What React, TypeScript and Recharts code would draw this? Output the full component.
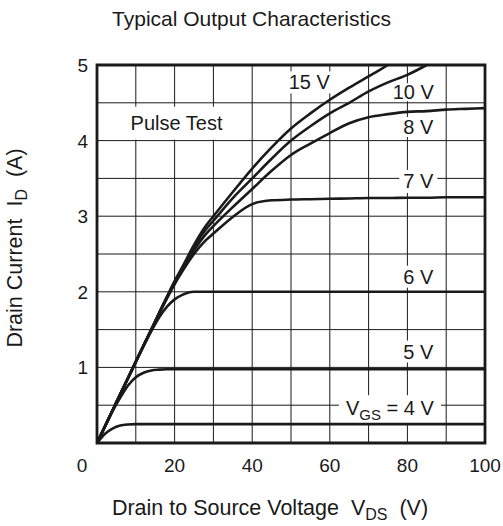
import { LineChart, Line, XAxis, YAxis, CartesianGrid, ReferenceArea, ReferenceDot } from 'recharts';

// drain-source voltage (V), shared by all curves
const vds = [0, 2, 4, 6, 8, 10, 12, 14, 16, 18, 20, 22, 25, 28, 30, 35, 40, 45, 50, 55, 60, 65, 70, 75, 80, 85, 90, 95, 100];

// drain current (A) for each gate voltage
const id4 = [0, 0.12, 0.19, 0.23, 0.245, 0.25, 0.25, 0.25, 0.25, 0.25, 0.25, 0.25, 0.25, 0.25, 0.25, 0.25, 0.25, 0.25, 0.25, 0.25, 0.25, 0.25, 0.25, 0.25, 0.25, 0.25, 0.25, 0.25, 0.25];
const id5 = [0, 0.21, 0.42, 0.6, 0.76, 0.87, 0.93, 0.96, 0.97, 0.975, 0.975, 0.975, 0.975, 0.975, 0.975, 0.975, 0.975, 0.975, 0.975, 0.975, 0.975, 0.975, 0.975, 0.975, 0.975, 0.975, 0.975, 0.975, 0.975];
const id6 = [0, 0.215, 0.43, 0.645, 0.86, 1.07, 1.28, 1.48, 1.66, 1.8, 1.9, 1.96, 2.0, 2.0, 2.0, 2.0, 2.0, 2.0, 2.0, 2.0, 2.0, 2.0, 2.0, 2.0, 2.0, 2.0, 2.0, 2.0, 2.0];
const id7 = [0, 0.215, 0.43, 0.645, 0.86, 1.075, 1.29, 1.5, 1.71, 1.91, 2.1, 2.27, 2.5, 2.68, 2.77, 2.99, 3.16, 3.21, 3.22, 3.225, 3.23, 3.235, 3.24, 3.24, 3.245, 3.245, 3.25, 3.25, 3.25];
const id8 = [0, 0.215, 0.43, 0.645, 0.86, 1.075, 1.29, 1.5, 1.71, 1.92, 2.12, 2.29, 2.55, 2.76, 2.87, 3.12, 3.36, 3.6, 3.81, 3.96, 4.1, 4.23, 4.31, 4.35, 4.38, 4.39, 4.41, 4.42, 4.43];
const id10 = [0, 0.215, 0.43, 0.645, 0.86, 1.075, 1.29, 1.5, 1.72, 1.93, 2.13, 2.31, 2.59, 2.82, 2.94, 3.24, 3.5, 3.76, 4.0, 4.19, 4.36, 4.5, 4.65, 4.77, 4.87, 5.0, null, null, null];
const id15 = [0, 0.215, 0.43, 0.65, 0.86, 1.08, 1.29, 1.5, 1.72, 1.93, 2.14, 2.33, 2.62, 2.87, 3.0, 3.32, 3.63, 3.91, 4.16, 4.36, 4.54, 4.7, 4.85, 5.0, null, null, null, null, null];

const xTicks = [0, 10, 20, 30, 40, 50, 60, 70, 80, 90, 100];
const yTicks = [0, 0.5, 1, 1.5, 2, 2.5, 3, 3.5, 4, 4.5, 5];

const curves = [
  { key: 'v4', values: id4 },
  { key: 'v5', values: id5 },
  { key: 'v6', values: id6 },
  { key: 'v7', values: id7 },
  { key: 'v8', values: id8 },
  { key: 'v10', values: id10 },
  { key: 'v15', values: id15 },
];

const data = vds.map((x, i) => {
  const row: Record<string, number | null> = { vds: x };
  curves.forEach((c) => {
    row[c.key] = c.values[i];
  });
  return row;
});

// curve annotations, placed in data units
const notes = [
  { text: '15 V', x: 54.7, y: 4.77, w: 44, h: 22 },
  { text: '10 V', x: 81.5, y: 4.64, w: 46, h: 18 },
  { text: '8 V', x: 82.8, y: 4.18, w: 36, h: 20 },
  { text: '7 V', x: 82.8, y: 3.46, w: 38, h: 23 },
  { text: '6 V', x: 82.8, y: 2.2, w: 36, h: 22 },
  { text: '5 V', x: 82.8, y: 1.21, w: 36, h: 22 },
  { text: 'Pulse Test', x: 20.5, y: 4.23, w: 108, h: 33 },
];

const FONT = '"Liberation Sans", Arial, Helvetica, sans-serif';
const INK = '#1a1a1a';

const XTick = (props: any) => {
  const { x, y, payload } = props;
  const v = payload.value;
  if (v % 20 !== 0) return <g />;
  return (
    <text x={v === 0 ? x - 15 : x} y={y + 29} textAnchor="middle" fontSize={19} fontFamily={FONT} fill={INK}>
      {v}
    </text>
  );
};

const YTick = (props: any) => {
  const { x, y, payload } = props;
  const v = payload.value;
  if (v === 0 || !Number.isInteger(v)) return <g />;
  return (
    <text x={x - 9} y={y + 7} textAnchor="end" fontSize={19} fontFamily={FONT} fill={INK}>
      {v}
    </text>
  );
};

const noteShape = (text: string, w: number, h: number) => (p: any) => (
  <g>
    <rect x={p.cx - w / 2} y={p.cy - h / 2} width={w} height={h} fill="#fff" />
    <text x={p.cx} y={p.cy + 7} textAnchor="middle" fontSize={20} fontFamily={FONT} fill={INK}>
      {text}
    </text>
  </g>
);

const vgsShape = (p: any) => (
  <g>
    <rect x={p.cx - 51} y={p.cy - 13} width={102} height={28} fill="#fff" />
    <text x={p.cx} y={p.cy + 7} textAnchor="middle" fontSize={20} fontFamily={FONT} fill={INK}>
      V
      <tspan fontSize={15} dy={5}>GS</tspan>
      <tspan dy={-5}> = 4 V</tspan>
    </text>
  </g>
);

export default function App() {
  return (
    <div style={{ position: 'absolute', left: 0, top: 0, width: 503, height: 526, background: '#fff' }}>
      <LineChart width={503} height={526} data={data} margin={{ top: 65, right: 18, bottom: 53, left: 57 }}>
        <CartesianGrid stroke={INK} strokeWidth={1} />
        <XAxis
          type="number"
          dataKey="vds"
          domain={[0, 100]}
          ticks={xTicks}
          height={30}
          axisLine={false}
          tickLine={false}
          tickSize={0}
          tickMargin={0}
          tick={<XTick />}
        />
        <YAxis
          type="number"
          domain={[0, 5]}
          ticks={yTicks}
          width={40}
          axisLine={false}
          tickLine={false}
          tickSize={0}
          tickMargin={0}
          tick={<YTick />}
        />
        {notes.map((n) => (
          <ReferenceDot key={n.text} x={n.x} y={n.y} r={0} zIndex={350} shape={noteShape(n.text, n.w, n.h)} />
        ))}
        <ReferenceDot x={75.5} y={0.46} r={0} zIndex={350} shape={vgsShape} />
        {curves.map((c) => (
          <Line
            key={c.key}
            type="monotone"
            dataKey={c.key}
            stroke={INK}
            strokeWidth={2.6}
            dot={false}
            isAnimationActive={false}
          />
        ))}
        <ReferenceArea x1={0} x2={100} y1={0} y2={5} fill="none" stroke={INK} strokeWidth={2.8} />
      </LineChart>
      <svg width={503} height={526} style={{ position: 'absolute', left: 0, top: 0, pointerEvents: 'none' }}>
        <text x={251.5} y={26} textAnchor="middle" fontSize={21} fontFamily={FONT} fill={INK}>
          Typical Output Characteristics
        </text>
        <text x={270} y={515} textAnchor="middle" fontSize={21.5} fontFamily={FONT} fill={INK} style={{ whiteSpace: 'pre' }}>
          {'Drain to Source Voltage  V'}
          <tspan fontSize={16} dy={5}>DS</tspan>
          <tspan dy={-5}>{'  (V)'}</tspan>
        </text>
        <text
          x={22}
          y={248}
          transform="rotate(-90, 22, 248)"
          textAnchor="middle"
          fontSize={21.5}
          fontFamily={FONT}
          fill={INK}
          style={{ whiteSpace: 'pre' }}
        >
          {'Drain Current  I'}
          <tspan fontSize={16} dy={5}>D</tspan>
          <tspan dy={-5}>{'  (A)'}</tspan>
        </text>
      </svg>
    </div>
  );
}
